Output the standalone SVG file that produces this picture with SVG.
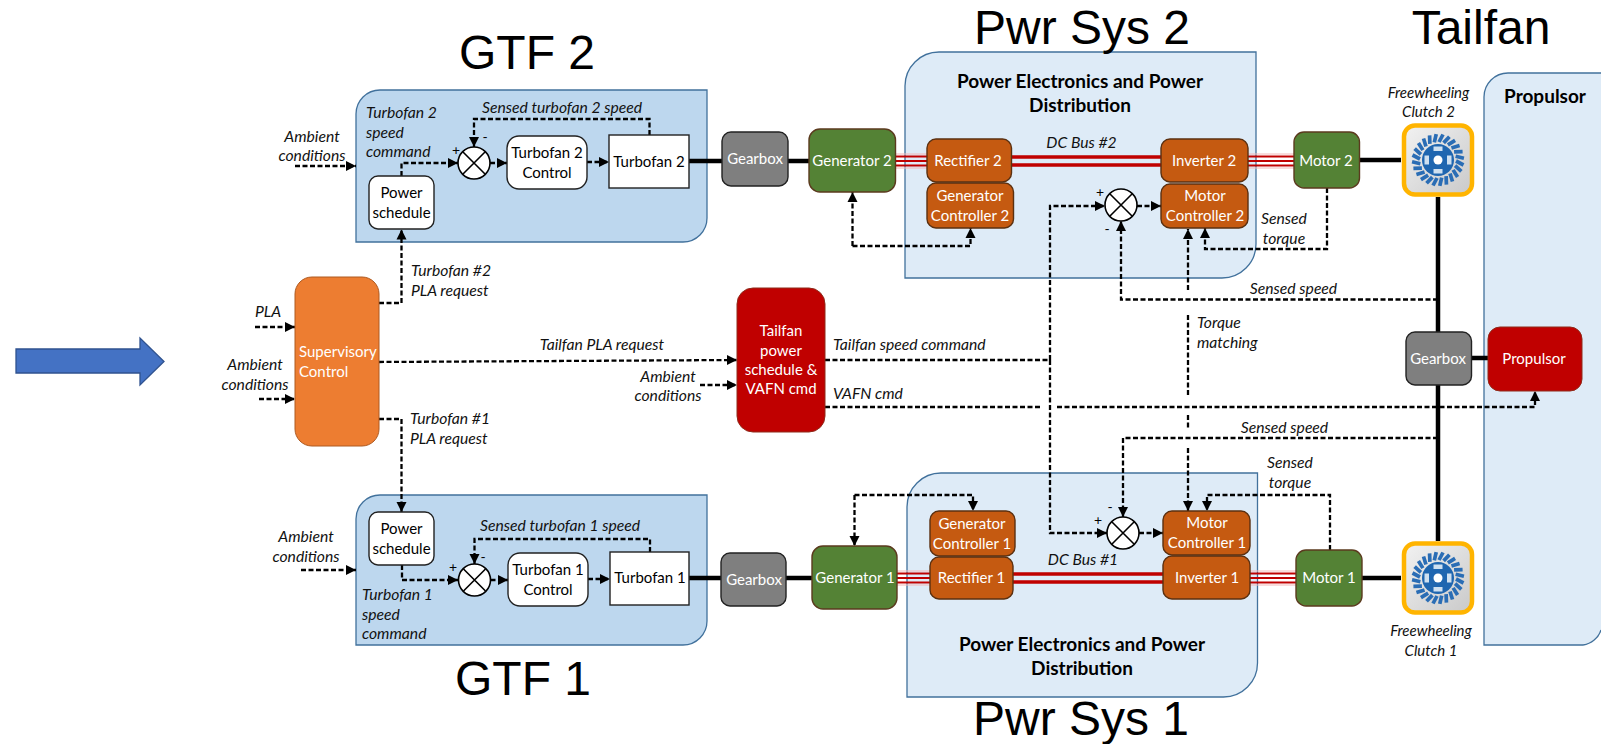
<svg xmlns="http://www.w3.org/2000/svg" xmlns:xlink="http://www.w3.org/1999/xlink" width="1601" height="744" viewBox="0 0 1601 744">
<style>
text{font-family:"Lato","Open Sans","Liberation Sans",sans-serif;font-size:15px;fill:#000}
.c{text-anchor:middle}
.i{font-style:italic;font-size:15.7px;fill:#111}
.w{fill:#fff}
.b{font-weight:700;font-size:19px}
.t{font-family:"Liberation Sans",Arial,sans-serif;font-size:48px}
.d{fill:none;stroke:#000;stroke-width:2.3;stroke-dasharray:5 2.5}
.a{marker-end:url(#ah)}
.s{fill:none;stroke:#000;stroke-width:4.5}
.bus{fill:none;stroke:#c00000;stroke-width:3.5}
.bu3{fill:none;stroke:#c00000;stroke-width:2.2}
.bo{fill:none;stroke:#f2b8b8;stroke-width:1}
.gtf{fill:#bdd7ee;stroke:#41719c;stroke-width:1.3}
.pwr{fill:#deebf7;stroke:#41719c;stroke-width:1.3}
.wh{fill:#fff;stroke:#222;stroke-width:1.4}
.gr{fill:#7f7f7f;stroke:#222;stroke-width:1.4}
.gn{fill:#548235;stroke:#5b3a1e;stroke-width:1.4}
.or{fill:#c55a11;stroke:#5b3010;stroke-width:1.4}
.rd{fill:#c00000;stroke:#8f2a1a;stroke-width:1}
.sm{fill:#fff;stroke:#000;stroke-width:1.6}
.x{stroke:#000;stroke-width:1.6}
.bl{stroke:#2a6db5;stroke-width:3.7}
.pm{font-size:14px}
</style>
<defs>
<marker id="ah" markerUnits="userSpaceOnUse" markerWidth="11" markerHeight="12" refX="10" refY="6" orient="auto"><path d="M0 1 L10 6 L0 11Z" fill="#000"/></marker>
<linearGradient id="cg" x1="0" y1="0" x2="1" y2="1"><stop offset="0" stop-color="#f2f2f2"/><stop offset="1" stop-color="#c9c9c9"/></linearGradient>
<line id="blade" class="bl" x1="1" y1="-18" x2="5" y2="-25.500"/>
<g id="clutch">
<rect x="-34" y="-34.500" width="68" height="69" rx="11" fill="url(#cg)" stroke="#ffb400" stroke-width="4.5"/>
<use href="#blade"/><use href="#blade" transform="rotate(15)"/><use href="#blade" transform="rotate(30)"/><use href="#blade" transform="rotate(45)"/><use href="#blade" transform="rotate(60)"/><use href="#blade" transform="rotate(75)"/><use href="#blade" transform="rotate(90)"/><use href="#blade" transform="rotate(105)"/><use href="#blade" transform="rotate(120)"/><use href="#blade" transform="rotate(135)"/><use href="#blade" transform="rotate(150)"/><use href="#blade" transform="rotate(165)"/><use href="#blade" transform="rotate(180)"/><use href="#blade" transform="rotate(195)"/><use href="#blade" transform="rotate(210)"/><use href="#blade" transform="rotate(225)"/><use href="#blade" transform="rotate(240)"/><use href="#blade" transform="rotate(255)"/><use href="#blade" transform="rotate(270)"/><use href="#blade" transform="rotate(285)"/><use href="#blade" transform="rotate(300)"/><use href="#blade" transform="rotate(315)"/><use href="#blade" transform="rotate(330)"/><use href="#blade" transform="rotate(345)"/>
<circle r="16" fill="#1f66b0"/>
<circle r="4.500" fill="#fff"/>
<rect x="-4.500" y="-13.500" width="9" height="4.500" fill="#cfe0f0"/><rect x="-4.500" y="9" width="9" height="4.500" fill="#cfe0f0"/><rect x="-13.500" y="-4.500" width="4.500" height="9" fill="#cfe0f0"/><rect x="9" y="-4.500" width="4.500" height="9" fill="#cfe0f0"/>
</g>
</defs>
<rect width="1601" height="744" fill="#fff"/>

<g id="flow-arrow"><path d="M16 349H140V338L164 361.500 140 385V373H16Z" fill="#4472c4" stroke="#2f528f" stroke-width="1.3"/></g>

<g id="gtf2"><path class="gtf" d="M380 90H707V218A24 24 0 0 1 683 242H356V114A24 24 0 0 1 380 90Z"/>
<text class="t c" x="527" y="69">GTF 2</text></g>
<g id="gtf1"><path class="gtf" d="M380 495H707V621A24 24 0 0 1 683 645H356V519A24 24 0 0 1 380 495Z"/>
<text class="t c" x="523" y="695">GTF 1</text></g>
<g id="pwr2"><path class="pwr" d="M939 52H1256V244A34 34 0 0 1 1222 278H905V86A34 34 0 0 1 939 52Z"/>
<text class="b c" x="1080" y="88">Power Electronics and Power</text><text class="b c" x="1080" y="112">Distribution</text>
<text class="t c" x="1082" y="44">Pwr Sys 2</text></g>
<g id="pwr1"><path class="pwr" d="M941 473H1257.500V663A34 34 0 0 1 1223.500 697H907V507A34 34 0 0 1 941 473Z"/>
<text class="b c" x="1082" y="651">Power Electronics and Power</text><text class="b c" x="1082" y="675">Distribution</text>
<text class="t c" x="1081" y="735">Pwr Sys 1</text></g>
<g id="tailfan"><path class="pwr" d="M1508 73H1625V645H1484V97A24 24 0 0 1 1508 73Z"/>
<path d="M1583 644A22 22 0 0 0 1601 630V646H1583Z" fill="#fff"/>
<path d="M1583 645A22 22 0 0 0 1601 630" fill="none" stroke="#41719c" stroke-width="1.3"/>
<text class="b c" x="1545" y="103">Propulsor</text>
<text class="t c" x="1481" y="44">Tailfan</text></g>

<g id="connectors">
<path class="s" d="M689 161H722M788 161H809"/>
<path class="s" d="M689 578H721M786 578H812"/>
<path class="s" d="M1360 160H1401M1438 197V332M1471 358H1488M1438 385V541M1362 578H1401"/>
<path class="bus" d="M1011 157H1161M1011 165H1161"/>
<path class="bu3" d="M895 156.500H927M895 161H927M895 165.500H927M1248 156.500H1294M1248 161H1294M1248 165.500H1294"/>
<path class="bo" d="M895 154H927M895 168H927M1248 154H1294M1248 168H1294"/>
<path class="bus" d="M1013 574H1163M1013 582H1163"/>
<path class="bu3" d="M897 573.500H930M897 578H930M897 582.500H930M1250 573.500H1296M1250 578H1296M1250 582.500H1296"/>
<path class="bo" d="M897 571H930M897 585H930M1250 571H1296M1250 585H1296"/>

<path class="d a" d="M295 166H356"/>
<path class="d a" d="M401.500 176V163H458"/>
<path class="d a" d="M649.500 135V119H474V147"/>
<path class="d a" d="M490 163H507"/>
<path class="d a" d="M587 162H609"/>
<path class="d a" d="M379 303H401.500V229.500"/>
<path class="d a" d="M255 327H295"/>
<path class="d a" d="M259 399H295"/>
<path class="d a" d="M379 362L737 360"/>
<path class="d a" d="M700 385H737"/>
<path class="d a" d="M379 419H401.500V512"/>
<path class="d a" d="M301 570H356"/>
<path class="d a" d="M402 565V580H458"/>
<path class="d a" d="M650 552V539H474.500V564"/>
<path class="d a" d="M490.500 580H508"/>
<path class="d a" d="M588 579H610"/>
<path class="d a" d="M854.500 495V546"/>
<path class="d a" d="M854.500 495H973V511"/>
<path class="d a" d="M852.500 246V192"/>
<path class="d a" d="M852.500 246H970.500V228"/>
<path class="d a" d="M825 360H1050V206H1105"/>
<path class="d a" d="M1050 360V533H1107"/>
<path class="d a" d="M1137 206H1161"/>
<path class="d a" d="M1139 533H1163"/>
<path class="d a" d="M1438 299.500H1121V221"/>
<path class="d a" d="M1438 438H1123V517"/>
<path class="d a" d="M1327 188V249H1205V228"/>
<path class="d a" d="M1330 550V495H1207V511"/>
<path class="d a" d="M1188 290V229"/>
<path class="d" d="M1188 315V395M1188 415V428"/>
<path class="d a" d="M1188 448V511"/>
<path class="d" d="M825 407H1042"/>
<path class="d a" d="M1057 407H1535V391"/>
</g>

<g id="supervisory"><rect x="295" y="277" width="84" height="169" rx="17" fill="#ed7d31" stroke="#ae5a21"/><text class="w" x="299" y="357">Supervisory</text><text class="w" x="299" y="377">Control</text></g>
<g id="tailfan-schedule"><rect class="rd" x="737" y="288" width="88" height="144" rx="16"/><text class="w c" x="781" y="336">Tailfan</text><text class="w c" x="781" y="356">power</text><text class="w c" x="781" y="375">schedule &amp;</text><text class="w c" x="781" y="394">VAFN cmd</text></g>

<g id="ps2"><rect class="wh" x="369" y="176" width="65" height="53" rx="9"/><text class="c" x="401.500" y="198">Power</text><text class="c" x="401.500" y="218">schedule</text></g>
<g id="sum-t2"><ellipse class="sm" cx="474" cy="163" rx="16" ry="16"/><path class="x" d="M463 152L485 174M485 152L463 174"/></g>
<g id="t2c"><rect class="wh" x="507" y="136" width="80" height="53" rx="12"/><text class="c" x="547" y="158">Turbofan 2</text><text class="c" x="547" y="178">Control</text></g>
<g id="t2"><rect class="wh" x="609" y="135" width="80" height="53"/><text class="c" x="649" y="167">Turbofan 2</text></g>
<g id="gb2"><rect class="gr" x="722" y="132" width="66" height="54" rx="9"/><text class="w c" x="755" y="164">Gearbox</text></g>
<g id="gen2"><rect class="gn" x="809" y="129" width="86.500" height="63" rx="11"/><text class="w c" x="852" y="166">Generator 2</text></g>
<g id="rect2"><rect class="or" x="927" y="139" width="84.500" height="43" rx="9"/><text class="w c" x="968" y="166">Rectifier 2</text></g>
<g id="gc2"><rect class="or" x="927" y="183" width="86.500" height="45" rx="9"/><text class="w c" x="970" y="201">Generator</text><text class="w c" x="970" y="221">Controller 2</text></g>
<g id="inv2"><rect class="or" x="1161" y="139" width="87" height="43" rx="9"/><text class="w c" x="1204" y="166">Inverter 2</text></g>
<g id="mc2"><rect class="or" x="1161" y="184" width="87" height="44" rx="9"/><text class="w c" x="1205" y="201">Motor</text><text class="w c" x="1205" y="221">Controller 2</text></g>
<g id="sum-m2"><ellipse class="sm" cx="1121" cy="205" rx="16" ry="16"/><path class="x" d="M1110 194L1132 216M1132 194L1110 216"/></g>
<g id="motor2"><rect class="gn" x="1294" y="132" width="65.500" height="56" rx="10"/><text class="w c" x="1326" y="166">Motor 2</text></g>
<g id="clutch2"><use href="#clutch" x="1438" y="160"/></g>
<g id="gb-tail"><rect class="gr" x="1406" y="332" width="65.500" height="53" rx="9"/><text class="w c" x="1438" y="364">Gearbox</text></g>
<g id="propulsor"><rect class="rd" x="1488" y="327" width="94" height="64" rx="12"/><text class="w c" x="1534" y="364">Propulsor</text></g>

<g id="ps1"><rect class="wh" x="369" y="512" width="65" height="53" rx="9"/><text class="c" x="401.500" y="534">Power</text><text class="c" x="401.500" y="554">schedule</text></g>
<g id="sum-t1"><ellipse class="sm" cx="474.500" cy="580" rx="16" ry="16"/><path class="x" d="M463.500 569L485.500 591M485.500 569L463.500 591"/></g>
<g id="t1c"><rect class="wh" x="508" y="553" width="80" height="53" rx="12"/><text class="c" x="548" y="575">Turbofan 1</text><text class="c" x="548" y="595">Control</text></g>
<g id="t1"><rect class="wh" x="610" y="552" width="79" height="53"/><text class="c" x="650" y="583">Turbofan 1</text></g>
<g id="gb1"><rect class="gr" x="721" y="553" width="65" height="53" rx="9"/><text class="w c" x="754" y="585">Gearbox</text></g>
<g id="gen1"><rect class="gn" x="812" y="546" width="85" height="63" rx="11"/><text class="w c" x="855" y="583">Generator 1</text></g>
<g id="gc1"><rect class="or" x="930" y="511" width="85" height="45" rx="9"/><text class="w c" x="972" y="529">Generator</text><text class="w c" x="972" y="549">Controller 1</text></g>
<g id="rect1"><rect class="or" x="930" y="557" width="83" height="42" rx="9"/><text class="w c" x="971.500" y="583">Rectifier 1</text></g>
<g id="mc1"><rect class="or" x="1163" y="511" width="87" height="44" rx="9"/><text class="w c" x="1207" y="528">Motor</text><text class="w c" x="1207" y="548">Controller 1</text></g>
<g id="inv1"><rect class="or" x="1163" y="556" width="87" height="43" rx="9"/><text class="w c" x="1207" y="583">Inverter 1</text></g>
<g id="sum-m1"><ellipse class="sm" cx="1123" cy="533" rx="16" ry="16"/><path class="x" d="M1112 522L1134 544M1134 522L1112 544"/></g>
<g id="motor1"><rect class="gn" x="1296" y="550" width="66" height="56" rx="10"/><text class="w c" x="1329" y="583">Motor 1</text></g>
<g id="clutch1"><use href="#clutch" x="1438" y="578"/></g>

<g id="labels">
<text class="i c" x="312" y="142">Ambient</text><text class="i c" x="312" y="161">conditions</text>
<text class="i" x="366" y="118">Turbofan 2</text><text class="i" x="366" y="138">speed</text><text class="i" x="366" y="157">command</text>
<text class="i" x="482" y="113">Sensed turbofan 2 speed</text>
<text class="c pm" x="456" y="155">+</text><text class="c pm" x="485" y="142">-</text>
<text class="i" x="411" y="276">Turbofan #2</text><text class="i" x="411" y="296">PLA request</text>
<text class="i c" x="268" y="317">PLA</text>
<text class="i c" x="255" y="370">Ambient</text><text class="i c" x="255" y="390">conditions</text>
<text class="i c" x="602" y="350">Tailfan PLA request</text>
<text class="i c" x="668" y="382">Ambient</text><text class="i c" x="668" y="401">conditions</text>
<text class="i" x="833" y="350">Tailfan speed command</text>
<text class="i" x="833" y="399">VAFN cmd</text>
<text class="i" x="410" y="424">Turbofan #1</text><text class="i" x="410" y="444">PLA request</text>
<text class="i c" x="306" y="542">Ambient</text><text class="i c" x="306" y="562">conditions</text>
<text class="i" x="480" y="531">Sensed turbofan 1 speed</text>
<text class="c pm" x="453" y="572">+</text><text class="c pm" x="483" y="562">-</text>
<text class="i" x="362" y="600">Turbofan 1</text><text class="i" x="362" y="620">speed</text><text class="i" x="362" y="639">command</text>
<text class="i c" x="1081.500" y="148">DC Bus #2</text>
<text class="c pm" x="1100" y="197">+</text><text class="c pm" x="1107" y="234">-</text>
<text class="i c" x="1284" y="224">Sensed</text><text class="i c" x="1284" y="244">torque</text>
<text class="i c" style="font-size:15px" x="1428.500" y="98">Freewheeling</text><text class="i c" style="font-size:15px" x="1428.500" y="117">Clutch 2</text>
<text class="i c" x="1293.500" y="294">Sensed speed</text>
<text class="i" x="1197" y="328">Torque</text><text class="i" x="1197" y="348">matching</text>
<text class="i c" x="1284.500" y="433">Sensed speed</text>
<text class="i c" x="1290" y="468">Sensed</text><text class="i c" x="1290" y="488">torque</text>
<text class="i c" x="1083" y="565">DC Bus #1</text>
<text class="c pm" x="1098" y="525">+</text><text class="c pm" x="1110" y="512">-</text>
<text class="i c" style="font-size:15px" x="1431" y="636">Freewheeling</text><text class="i c" style="font-size:15px" x="1431" y="656">Clutch 1</text>
</g>
</svg>
